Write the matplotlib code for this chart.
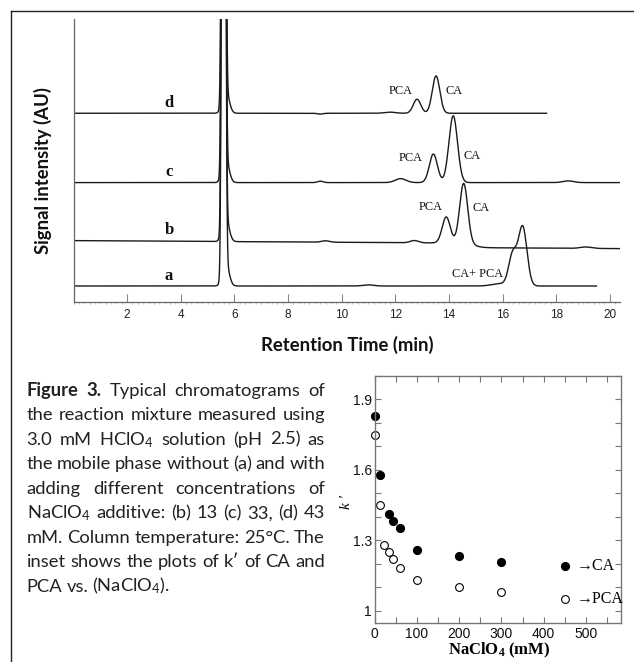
import numpy as np
import matplotlib
matplotlib.use('Agg')
import matplotlib.pyplot as plt
from matplotlib.lines import Line2D
from matplotlib.ticker import MultipleLocator, FixedLocator

plt.rcParams['font.family'] = ['Liberation Sans', 'DejaVu Sans']
plt.rcParams['mathtext.fontset'] = 'custom'
plt.rcParams['mathtext.default'] = 'regular'

W, H = 634, 662
fig = plt.figure(figsize=(W / 100, H / 100), dpi=100)

# ------------------------------------------------------------------ data
# chromatogram traces (retention time in min, signal in arbitrary units)
trace_names = ['a', 'b', 'c', 'd']
trace_start = [0.05, 0.05, 0.05, 0.05]
trace_end = [19.5, 20.38, 20.38, 17.64]
baseline_level = [5.76, 21.8, 42.3, 66.8]
baseline_drift = [0.0, -0.06, 0.0, 0.0]
baseline_step = [0.0, -1.6, 0.0, 0.0]
baseline_step_time = [15.0, 14.95, 15.0, 15.0]

# solvent front peak common to all runs
solvent_time = [5.6, 5.68]
solvent_height = [600.0, 8.0]
solvent_width = [0.05, 0.12]

# analyte peaks of each run: retention time, height, width
peak_time_a = [11.0, 15.9, 16.38, 16.75]
peak_height_a = [0.4, 0.8, 11.0, 20.8]
peak_width_a = [0.2, 0.3, 0.15, 0.16]

peak_time_b = [9.4, 12.71, 13.9, 14.55, 19.1]
peak_height_b = [0.5, 0.8, 9.2, 21.2, 0.5]
peak_width_b = [0.15, 0.15, 0.15, 0.15, 0.2]

peak_time_c = [9.2, 12.2, 13.42, 14.16, 18.45]
peak_height_c = [0.5, 1.4, 10.1, 23.6, 0.6]
peak_width_c = [0.1, 0.2, 0.15, 0.16, 0.2]

peak_time_d = [9.2, 11.8, 12.81, 13.52]
peak_height_d = [-0.3, 0.4, 4.95, 13.2]
peak_width_d = [0.1, 0.2, 0.14, 0.14]

peak_labels = ['CA+ PCA', 'PCA', 'CA', 'PCA', 'CA', 'PCA', 'CA']
peak_label_time = [15.07, 13.31, 15.19, 12.58, 14.88, 12.2, 14.2]
peak_label_signal = [10.0, 33.6, 33.2, 51.1, 51.8, 74.7, 74.7]

x_ticks = [2, 4, 6, 8, 10, 12, 14, 16, 18, 20]

# inset: capacity factor k' vs NaClO4 concentration
naclo4_ca = [0, 13, 33, 43, 60, 100, 200, 300]
k_ca = [1.829, 1.579, 1.413, 1.383, 1.351, 1.260, 1.232, 1.210]
naclo4_pca = [0, 13, 23, 33, 43, 60, 100, 200, 300]
k_pca = [1.751, 1.453, 1.282, 1.251, 1.221, 1.182, 1.132, 1.101, 1.082]
legend_x = [450, 450]
legend_k = [1.192, 1.051]
inset_xticks = [0, 100, 200, 300, 400, 500]
inset_yticks = [1.0, 1.3, 1.6, 1.9]
inset_yticklabels = ['1', '1.3', '1.6', '1.9']

peak_sets = [
    (peak_time_a, peak_height_a, peak_width_a),
    (peak_time_b, peak_height_b, peak_width_b),
    (peak_time_c, peak_height_c, peak_width_c),
    (peak_time_d, peak_height_d, peak_width_d),
]


def gauss_sum(t, times, heights, widths):
    y = np.zeros_like(t)
    for c, h, w in zip(times, heights, widths):
        y += h * np.exp(-0.5 * ((t - c) / w) ** 2)
    return y


def fx(px):
    return px / W


def fy(py):
    return 1 - py / H


# ------------------------------------------------------------------ frame
fig.add_artist(Line2D([fx(11), fx(11)], [fy(11), 0], transform=fig.transFigure,
                      color='#222222', lw=1.0))
fig.add_artist(Line2D([fx(11), 1], [fy(11), fy(11)], transform=fig.transFigure,
                      color='#222222', lw=1.0))

# ------------------------------------------------------------------ main chromatogram
ax = fig.add_axes([fx(73.5), fy(302.3), (620 - 73.5) / W, 283 / H])
ax.set_xlim(0, 20.38)
ax.set_ylim(0, 100)

for i, name in enumerate(trace_names):
    t = np.linspace(trace_start[i], trace_end[i], 6000)
    base = (baseline_level[i] + baseline_drift[i] * t
            + baseline_step[i] / (1 + np.exp(-(t - baseline_step_time[i]) / 0.15)))
    y = base + gauss_sum(t, solvent_time, solvent_height, solvent_width)
    y = y + gauss_sum(t, *peak_sets[i])
    ax.plot(t, y, color='#1a1a1a', lw=1.0, solid_joinstyle='round')
    ax.text(3.56, baseline_level[i] + 2.2, name, ha='center', va='baseline',
            fontsize=12, fontweight='bold', family=['Liberation Serif', 'DejaVu Serif'],
            color='#111111')

for lab, tt, ss in zip(peak_labels, peak_label_time, peak_label_signal):
    ax.text(tt, ss, lab, ha='center', va='center', fontsize=8.8,
            family=['Liberation Serif', 'DejaVu Serif'], color='#111111')

for s in ['top', 'right']:
    ax.spines[s].set_visible(False)
for s in ['left', 'bottom']:
    ax.spines[s].set_color('#666666')
    ax.spines[s].set_linewidth(0.9)
ax.set_yticks([])
ax.xaxis.set_major_locator(FixedLocator(x_ticks))
ax.xaxis.set_minor_locator(MultipleLocator(0.2))
ax.tick_params(axis='x', which='major', direction='in', length=6, width=0.8,
               color='#888888', labelsize=8.5, pad=5, labelcolor='#222222')
ax.tick_params(axis='x', which='minor', direction='out', length=1.5, width=0.5,
               color='#aaaaaa')

fig.text(fx(347.5), fy(345), 'Retention Time (min)', ha='center', va='center',
         fontsize=13.3, fontweight='bold', family=['Lato', 'DejaVu Sans'], color='#111111')
fig.text(fx(43), fy(171), 'Signal intensity (AU)', ha='center', va='center',
         rotation=90, fontsize=13.3, fontweight='bold', family=['Lato', 'DejaVu Sans'],
         color='#111111')

# ------------------------------------------------------------------ inset
ins = fig.add_axes([fx(374.7), fy(622.7), 246.3 / W, 246.7 / H])
ins.set_xlim(0, 583)
ins.set_ylim(0.95, 2.0)
ins.plot(naclo4_ca, k_ca, 'o', ms=5.6, color='black', clip_on=False)
ins.plot(naclo4_pca, k_pca, 'o', ms=5.6, mfc='white', mec='black', mew=0.8,
         clip_on=False)
ins.plot(legend_x[:1], legend_k[:1], 'o', ms=5.6, color='black')
ins.plot(legend_x[1:], legend_k[1:], 'o', ms=5.6, mfc='white', mec='black', mew=0.8)
ins.text(478, legend_k[0], '→CA', ha='left', va='center', fontsize=11.5,
         family=['Liberation Serif', 'DejaVu Serif'])
ins.text(478, legend_k[1], '→PCA', ha='left', va='center', fontsize=11.5,
         family=['Liberation Serif', 'DejaVu Serif'])

ins.xaxis.set_major_locator(FixedLocator(inset_xticks))
ins.xaxis.set_minor_locator(MultipleLocator(50))
ins.yaxis.set_major_locator(FixedLocator(inset_yticks))
ins.set_yticklabels(inset_yticklabels)
ins.yaxis.set_minor_locator(MultipleLocator(0.1))
for s in ins.spines.values():
    s.set_color('#777777')
    s.set_linewidth(1.0)
ins.tick_params(which='both', direction='in', top=True, right=True, length=4,
                width=0.8, color='#777777', labelsize=10, labelcolor='#111111')
ins.tick_params(axis='x', pad=3)
ins.tick_params(axis='y', pad=2)

fig.text(fx(499), fy(650.5), 'NaClO$_4$ (mM)', ha='center', va='center', fontsize=12,
         fontweight='bold', family=['Liberation Serif', 'DejaVu Serif'])
fig.text(fx(347), fy(502), 'k ′', ha='center', va='center', rotation=90, fontsize=11,
         style='italic', family=['Liberation Serif', 'DejaVu Serif'])

# ------------------------------------------------------------------ caption (justified)
caption_lines = [
    'Figure 3. Typical chromatograms of',
    'the reaction mixture measured using',
    '3.0 mM HClO$_4$ solution (pH 2.5) as',
    'the mobile phase without (a) and with',
    'adding different concentrations of',
    'NaClO$_4$ additive: (b) 13 (c) 33, (d) 43',
    'mM. Column temperature: 25°C. The',
    'inset shows the plots of k′ of CA and',
    'PCA vs. (NaClO$_4$).',
]
cap_left, cap_right = 26.7, 325.0
cap_base0, cap_dy = 396.0, 24.46
cap_family = ['Lato', 'DejaVu Sans']
min_gap = 3.0

renderer = fig.canvas.get_renderer()


def build_caption(size):
    all_lines = []
    for i, line in enumerate(caption_lines):
        words = line.split(' ')
        texts = []
        for j, w in enumerate(words):
            bold = (i == 0 and j < 2)
            tx = fig.text(0, fy(cap_base0 + i * cap_dy), w, ha='left', va='baseline',
                          fontsize=size, family=cap_family,
                          fontweight='bold' if bold else 'normal', color='#222222')
            texts.append(tx)
        widths = [tx.get_window_extent(renderer).width for tx in texts]
        all_lines.append((texts, widths))
    return all_lines


cap_size = 14.0
while True:
    lines = build_caption(cap_size)
    ok = all(sum(wd) + min_gap * (len(wd) - 1) <= cap_right - cap_left
             for k, (tx, wd) in enumerate(lines) if k < len(lines) - 1)
    if ok or cap_size <= 10:
        break
    for tx_list, _ in lines:
        for tx in tx_list:
            tx.remove()
    cap_size -= 0.25

for i, (texts, widths) in enumerate(lines):
    if i < len(lines) - 1 and len(texts) > 1:
        gap = (cap_right - cap_left - sum(widths)) / (len(texts) - 1)
    else:
        gap = 4.0
    x = cap_left
    for tx, wd in zip(texts, widths):
        tx.set_x(fx(x))
        x += wd + gap

fig.savefig('out.png', dpi=100)
